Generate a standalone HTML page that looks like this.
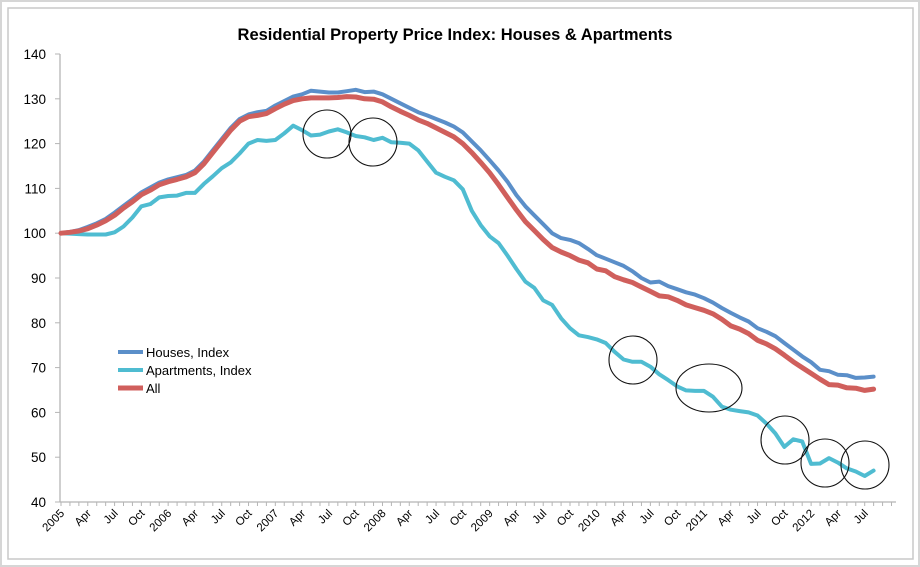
<!DOCTYPE html>
<html><head><meta charset="utf-8"><style>
html,body{margin:0;padding:0;background:#d6d6d6;}
svg{display:block;font-family:"Liberation Sans",sans-serif;}
</style></head><body>
<svg id="chart" width="920" height="567">
<rect x="2" y="2" width="916" height="563" fill="#fff"/>
<rect x="8" y="8" width="905" height="551" fill="#fff" stroke="#c8c8c8" stroke-width="1.5"/>
<text x="455" y="40" text-anchor="middle" font-size="16.5" font-weight="bold" fill="#000">Residential Property Price Index: Houses &amp; Apartments</text>
<g id="axes"></g>
<g id="series"></g>
<g id="circles" fill="none" stroke="#111" stroke-width="1.1">
<circle cx="327" cy="134" r="24"/>
<circle cx="373" cy="142" r="24"/>
<circle cx="633" cy="360" r="24"/>
<ellipse cx="709" cy="388" rx="33" ry="24"/>
<circle cx="785" cy="440" r="24"/>
<circle cx="825" cy="463" r="24"/>
<circle cx="865" cy="465" r="24"/>
</g>
<g id="legend" font-size="13" fill="#000">
<line x1="118" y1="352" x2="143" y2="352" stroke="#5b8fc9" stroke-width="4"/>
<text x="146" y="357">Houses, Index</text>
<line x1="118" y1="370" x2="143" y2="370" stroke="#4fbcd1" stroke-width="4"/>
<text x="146" y="375">Apartments, Index</text>
<line x1="118" y1="388" x2="143" y2="388" stroke="#d05f5c" stroke-width="5"/>
<text x="146" y="393">All</text>
</g>
</svg>
<script>
const yTicks = [40,50,60,70,80,90,100,110,120,130,140];
const monthNames = ["","Apr","Jul","Oct"];
const years = [2005,2006,2007,2008,2009,2010,2011,2012];
const houses = [100,100.3,100.7,101.4,102.2,103.2,104.6,106.1,107.6,109.1,110.2,111.3,
112,112.5,113,114,116,118.5,121,123.5,125.5,126.5,127,127.3,
128.5,129.5,130.5,131,131.8,131.6,131.4,131.4,131.7,132,131.5,131.6,
131,130,129,128,127,126.3,125.5,124.7,123.8,122.5,120.5,118.5,
116.3,114,111.5,108.5,106,104,102,100,98.9,98.5,97.8,96.5,
95.1,94.3,93.5,92.7,91.5,90,89,89.2,88.2,87.5,86.8,86.3,
85.5,84.5,83.3,82.2,81.2,80.3,78.8,78,77,75.5,74,72.5,
71.2,69.5,69.2,68.4,68.3,67.7,67.8,68];
const apartments = [100,99.9,99.8,99.7,99.7,99.7,100.2,101.5,103.5,106,106.5,108,
108.3,108.4,109,109,111,112.7,114.5,115.8,117.8,120,120.8,120.6,
120.8,122.3,124,123,121.8,122,122.7,123.2,122.5,121.7,121.4,120.8,
121.3,120.3,120.2,120,118.5,116,113.5,112.6,111.8,109.8,105,101.8,
99.3,97.8,95,92,89.2,87.8,85,84,81,78.8,77.2,76.8,
76.3,75.5,73.5,71.8,71.3,71.3,70.2,68.5,67.2,65.8,64.9,64.8,
64.8,63.5,61.3,60.6,60.3,60,59.3,57.5,55.3,52.3,54,53.5,
48.5,48.6,49.8,48.8,47.5,46.8,45.8,47];
const allIdx = [100,100.2,100.5,101,101.8,102.8,104,105.6,107,108.6,109.6,110.8,
111.5,112,112.6,113.5,115.5,118,120.5,123,125,126,126.3,126.7,
127.8,128.8,129.6,130,130.2,130.2,130.2,130.3,130.5,130.4,130,129.9,
129.3,128.2,127.2,126.3,125.3,124.5,123.5,122.5,121.5,120,118,115.8,
113.5,110.8,108,105.2,102.6,100.6,98.6,96.8,95.8,95,94,93.4,
92,91.6,90.3,89.6,89,88,87,86,85.8,85,84,83.4,
82.8,82,80.8,79.3,78.6,77.6,76.1,75.3,74.2,72.8,71.3,70,
68.7,67.4,66.2,66.1,65.5,65.4,64.9,65.2];

const NS='http://www.w3.org/2000/svg';
const X0=61, DX=8.93, AXEND=896, Y0=502, YTOP=54;
const xs=i=>X0+i*DX;
const ys=v=>Y0-(v-40)*(Y0-YTOP)/100;
const axes=document.getElementById('axes');
function mk(tag,attrs,parent){const e=document.createElementNS(NS,tag);for(const k in attrs)e.setAttribute(k,attrs[k]);parent.appendChild(e);return e;}

let ya=mk('line',{x1:60,y1:YTOP,x2:60,y2:Y0,stroke:'#b5b5b5','stroke-width':1.3},axes);


let xa=mk('line',{x1:60,y1:Y0,x2:AXEND,y2:Y0,stroke:'#b5b5b5','stroke-width':1.3},axes);


yTicks.forEach(v=>{
  const t=mk('line',{x1:55,y1:ys(v),x2:60,y2:ys(v),stroke:'#b5b5b5'},axes);
  
  
  const l=mk('text',{x:46,y:ys(v)+5,'text-anchor':'end','font-size':13.5,fill:'#000'},axes);
  l.textContent=v;
  
  
});
for(let i=0;i<=94;i++){
  const x=xs(i); if(x>AXEND+1)break;
  const t=mk('line',{x1:x,y1:Y0,x2:x,y2:Y0+4,stroke:'#b5b5b5'},axes);
  
  
}
years.forEach((yr,yi)=>{
  for(let q=0;q<4;q++){
    const idx=yi*12+q*3; if(idx>houses.length)break;
    const txt=q===0?String(yr):monthNames[q];
    const x=xs(idx)+4, y=Y0+12;
    const l=mk('text',{x:x,y:y,'text-anchor':'end','font-size':11.5,fill:'#000',transform:`rotate(-45 ${x} ${y})`},axes);
    l.textContent=txt;
    
    
  }
});
const series=document.getElementById('series');
function draw(data,color,w,name){
  const d=data.map((v,i)=>(i?'L':'M')+xs(i).toFixed(1)+' '+ys(v).toFixed(1)).join(' ');
  const p=mk('path',{d:d,fill:'none',stroke:color,'stroke-width':w,'stroke-linejoin':'round','stroke-linecap':'round'},series);
  
  
}
draw(houses,'#5b8fc9',4,'houses-line');
draw(apartments,'#4fbcd1',4,'apartments-line');
draw(allIdx,'#d05f5c',5,'all-line');
</script>
</body></html>
